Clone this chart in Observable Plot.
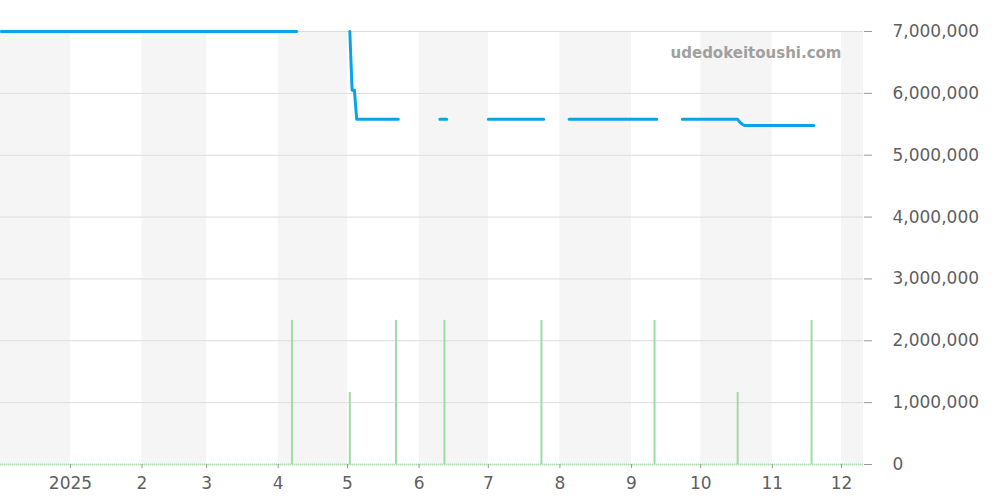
<!DOCTYPE html>
<html>
<head>
<meta charset="utf-8">
<script src="https://cdn.jsdelivr.net/npm/d3@7"></script>
<script src="https://cdn.jsdelivr.net/npm/@observablehq/plot@0.6"></script>
<style>
  html, body { margin: 0; padding: 0; background: #fff; }
</style>
</head>
<body>
<div id="chart"></div>
<script>
// ---- data ----
const priceDates = ["2024-12-02","2025-04-09","2025-04-20","2025-05-02","2025-05-03","2025-05-04","2025-05-05","2025-05-23","2025-06-01","2025-06-10","2025-06-13","2025-06-20","2025-07-01","2025-07-25","2025-08-01","2025-08-05","2025-09-12","2025-09-18","2025-09-23","2025-10-17","2025-10-18","2025-10-19","2025-10-20","2025-11-19"];
const priceValues = [7000000,7000000,null,7000000,6050000,6050000,5580000,5580000,null,5580000,5580000,null,5580000,5580000,null,5580000,5580000,null,5580000,5580000,5530000,5500000,5480000,5480000];

const volumeDates = ["2025-04-07","2025-05-02","2025-05-22","2025-06-12","2025-07-24","2025-09-11","2025-10-17","2025-11-18"];
const volumeValues = [2330000,1165000,2330000,2330000,2330000,2330000,1165000,2330000];

const shadedMonths = ["2024-12","2025-02","2025-04","2025-06","2025-08","2025-10","2025-12"];
const yTicks = [0,1000000,2000000,3000000,4000000,5000000,6000000,7000000];
const xDomain = [new Date("2024-12-01T17:00Z"), new Date("2025-12-10T12:00Z")];
const watermark = "udedokeitoushi.com";

// ---- tables ----
const price = priceDates.map((d, i) => ({date: new Date(d + "T00:00Z"), value: priceValues[i]}));
const volume = volumeDates.map((d, i) => ({date: new Date(d + "T00:00Z"), value: volumeValues[i]}));
const bands = shadedMonths.map(m => {
  const s = new Date(m + "-01T00:00Z");
  return {start: s, end: d3.utcMonth.offset(s, 1)};
});
const monthTicks = d3.utcMonth.range(new Date("2025-01-01T00:00Z"), new Date("2025-12-02T00:00Z"));

const chart = Plot.plot({
  width: 1000,
  height: 500,
  marginLeft: 0,
  marginRight: 137,
  marginTop: 31,
  marginBottom: 36,
  style: {fontFamily: "DejaVu Sans, sans-serif", fontSize: "17px", color: "#666", background: "#fff", overflow: "visible"},
  x: {type: "utc", domain: xDomain},
  y: {domain: [0, 7000000]},
  marks: [
    Plot.rect(bands, {x1: "start", x2: "end", fill: "#f5f5f5", clip: true}),
    Plot.gridY(yTicks, {stroke: "#dcdcdc", strokeOpacity: 1}),
    Plot.ruleY([0], {stroke: "#b3dfb5", strokeWidth: 2, strokeDasharray: "1,1"}),
    Plot.ruleX(volume, {x: "date", y1: 0, y2: "value", stroke: "#9fdca3", strokeWidth: 2}),
    Plot.line(price, {x: "date", y: "value", stroke: "#0aa3e8", strokeWidth: 3}),
    Plot.axisY(yTicks, {anchor: "right", tickSize: 8, tickPadding: 21, stroke: "#999", fill: "#5f5f5f", tickFormat: d3.format(","), label: null}),
    Plot.axisX(monthTicks, {anchor: "bottom", tickSize: 4, tickPadding: 8, stroke: "#999", fill: "#5f5f5f", label: null,
      tickFormat: d => d.getUTCMonth() === 0 ? String(d.getUTCFullYear()) : String(d.getUTCMonth() + 1)}),
    Plot.text([watermark], {frameAnchor: "top-right", dx: -22, dy: 16, text: d => d, fill: "#a0a0a0", fontWeight: "bold", fontSize: 15, textAnchor: "end"})
  ]
});
document.getElementById("chart").appendChild(chart);
</script>
</body>
</html>
